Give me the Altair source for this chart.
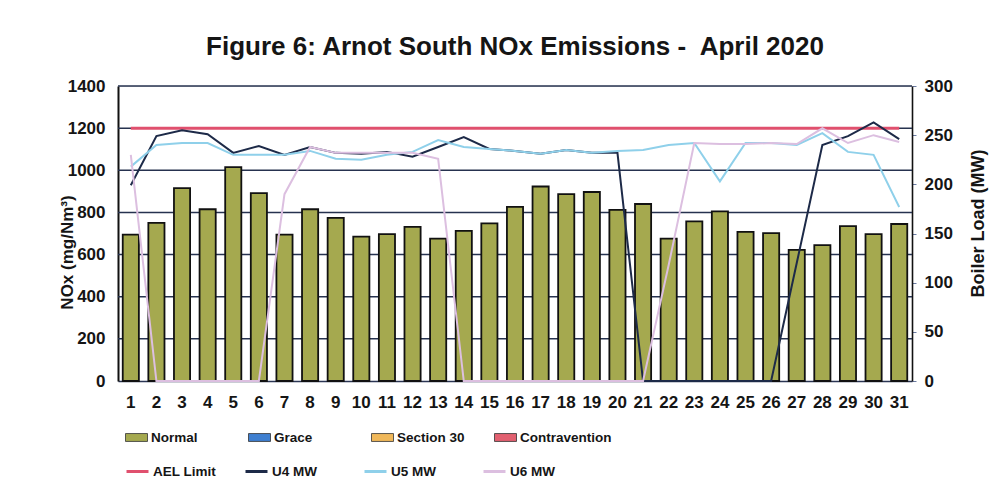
import altair as alt
import pandas as pd

# ---------------- data ----------------
days = list(range(1, 32))
nox_normal = [695, 750, 915, 815, 1015, 892, 695, 815, 774, 685, 697, 731, 676, 712, 748,
              826, 923, 887, 897, 812, 840, 676, 758, 805, 708, 702, 622, 645, 735, 697, 745]
ael_limit = [1200] * 31
u4_mw = [199, 249, 255, 251, 232, 239, 230, 238, 232, 231, 233, 228, 238, 248, 236,
         234, 231, 235, 232, 232, 0, 0, 0, 0, 0, 0, 120, 240, 249, 263, 246]
u5_mw = [218, 240, 242, 242, 230, 230, 230, 234, 226, 225, 230, 233, 245, 238, 236,
         234, 231, 235, 232, 234, 235, 240, 242, 203, 242, 242, 240, 252, 233, 230, 177]
u6_mw = [230, 0, 0, 0, 0, 0, 190, 238, 232, 232, 232, 232, 226, 0, 0,
         0, 0, 0, 0, 0, 0, 118, 242, 241, 241, 242, 241, 257, 242, 250, 243]

bar_cats = ["Normal", "Grace", "Section 30", "Contravention"]
bar_colors = ["#a5a94f", "#3f7fd0", "#f0b85a", "#e26070"]
line_cats = ["AEL Limit", "U4 MW", "U5 MW", "U6 MW"]
line_colors = ["#e0506e", "#1d2a48", "#8fd0ea", "#dcbfe0"]
left_ticks = [0, 200, 400, 600, 800, 1000, 1200, 1400]
grid_values = [200, 400, 600, 800, 1000, 1200, 1400]
right_ticks = [0, 50, 100, 150, 200, 250, 300]

title_text = "Figure 6: Arnot South NOx Emissions -\u00a0 April 2020"
FONT = "Liberation Sans"
INK = "#151515"

# ---------------- tables ----------------
bars_df = pd.DataFrame({"day": days, "nox": nox_normal, "cat": ["Normal"] * len(days)})
ael_df = pd.DataFrame({"day": days, "nox": ael_limit, "series": ["AEL Limit"] * len(days)})
grid_df = pd.DataFrame({"nox": grid_values})
units_df = pd.concat([
    pd.DataFrame({"day": days, "mw": u4_mw, "series": ["U4 MW"] * len(days)}),
    pd.DataFrame({"day": days, "mw": u5_mw, "series": ["U5 MW"] * len(days)}),
    pd.DataFrame({"day": days, "mw": u6_mw, "series": ["U6 MW"] * len(days)}),
], ignore_index=True)

# ---------------- encodings ----------------
x_enc = alt.X(
    "day:O", title=None,
    scale=alt.Scale(paddingInner=0.37, paddingOuter=0.185),
    axis=alt.Axis(labelAngle=0, labelFont=FONT, labelFontSize=17, labelFontWeight="bold",
                  labelColor=INK, ticks=False, domainColor="#2b3655", domainWidth=1.5,
                  labelPadding=13, grid=False),
)

left_axis = alt.Axis(
    values=left_ticks, format="d", title="NOx (mg/Nm³)", titleFont=FONT, titleFontSize=17,
    titleFontWeight="bold", titleColor=INK, titlePadding=-9, titleY=166,
    labelFont=FONT, labelFontSize=17, labelFontWeight="bold", labelColor=INK,
    labelPadding=13, ticks=False, domainColor="#111111", domainWidth=2, grid=False,
)

right_axis = alt.Axis(
    orient="right", values=right_ticks, title="Boiler Load (MW)", titleFont=FONT,
    titleFontSize=18, titleFontWeight="bold", titleColor=INK, titleAngle=270,
    titlePadding=35, titleY=137, labelFont=FONT, labelFontSize=17, labelFontWeight="bold",
    labelColor=INK, labelPadding=8, ticks=True, tickSize=4, tickColor="#6a7aa0",
    domainColor="#111111", domainWidth=1.6, grid=False,
)

fill_legend = alt.Legend(
    title=None, orient="none", legendX=7, legendY=340, direction="horizontal",
    columns=4, gridAlign="all", columnPadding=3, padding=0,
    symbolType="M-1,-0.36L1,-0.36L1,0.36L-1,0.36Z", symbolSize=484,
    symbolStrokeColor="#333333", symbolStrokeWidth=0.8,
    labelFont=FONT, labelFontSize=13.5, labelFontWeight="bold", labelColor=INK,
    labelOffset=3, labelLimit=200,
)
line_legend = alt.Legend(
    title=None, orient="none", legendX=7, legendY=373, direction="horizontal",
    columns=4, gridAlign="all", columnPadding=23, padding=0,
    symbolType="stroke", symbolSize=484, symbolStrokeWidth=3,
    labelFont=FONT, labelFontSize=13.5, labelFontWeight="bold", labelColor=INK,
    labelOffset=3, labelLimit=200,
)

line_scale = alt.Scale(domain=line_cats, range=line_colors)
left_y = alt.Y("nox:Q", scale=alt.Scale(domain=[0, 1400]), axis=left_axis)

grid = alt.Chart(grid_df).mark_rule(color="#26324f", strokeWidth=1.5).encode(y=left_y)

bars = alt.Chart(bars_df).mark_bar(stroke="#111111", strokeWidth=1.8).encode(
    x=x_enc,
    y=left_y,
    fill=alt.Fill("cat:N", scale=alt.Scale(domain=bar_cats, range=bar_colors), legend=fill_legend),
)

ael = alt.Chart(ael_df).mark_line(strokeWidth=3).encode(
    x=x_enc,
    y=left_y,
    stroke=alt.Stroke("series:N", scale=line_scale, legend=line_legend),
)

units = alt.Chart(units_df).mark_line(strokeWidth=2).encode(
    x=x_enc,
    y=alt.Y("mw:Q", scale=alt.Scale(domain=[0, 300]), axis=right_axis),
    stroke=alt.Stroke("series:N", scale=line_scale, legend=line_legend),
)

left = alt.layer(grid, bars, ael)
chart = alt.layer(left, units).resolve_scale(y="independent").properties(
    width=794, height=295,
    padding={"left": 110, "top": 78, "right": 80, "bottom": 105},
    autosize=alt.AutoSizeParams(type="none"),
    title=alt.TitleParams(title_text, font=FONT, fontSize=26, fontWeight="bold",
                          color=INK, anchor="middle", offset=17),
).configure_view(stroke="#2d3a5e", strokeWidth=1).configure(background="white")

chart.save("out.html", embed_options={"renderer": "svg", "actions": False})
